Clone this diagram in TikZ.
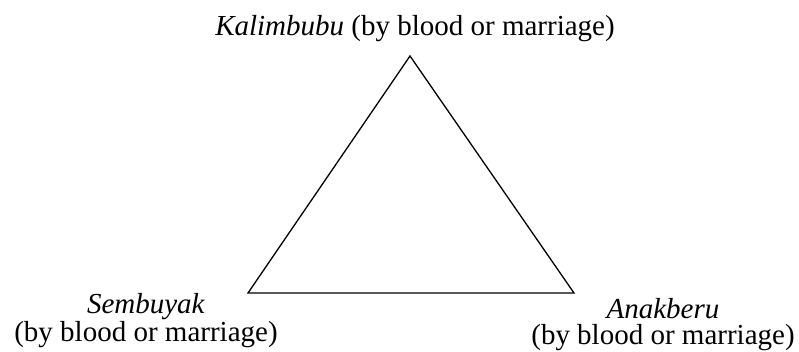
\documentclass[tikz,border=0pt]{standalone}
\usepackage{fontspec}
\setmainfont{Liberation Serif}
\begin{document}
\begin{tikzpicture}[x=1pt,y=-1pt,
  lbl/.style={anchor=base,inner sep=0pt,align=center,font=\fontsize{29}{26}\selectfont},
  tri/.style={draw,line width=1.3pt,line join=miter}]
\useasboundingbox (0,0) rectangle (799,351);
\coordinate (top) at (410,56);
\coordinate (bl) at (248,293);
\coordinate (br) at (574,293);
\draw[tri] (top) -- (bl) -- (br) -- cycle;
\node[lbl] (kal) at (415,35) {\textit{Kalimbubu} (by blood or marriage)};
\node[lbl] (sem) at (146,341) {\textit{Sembuyak}\\(by blood or marriage)};
\node[lbl] (ana) at (663,344) {\textit{Anakberu}\\(by blood or marriage)};
\end{tikzpicture}
\end{document}
